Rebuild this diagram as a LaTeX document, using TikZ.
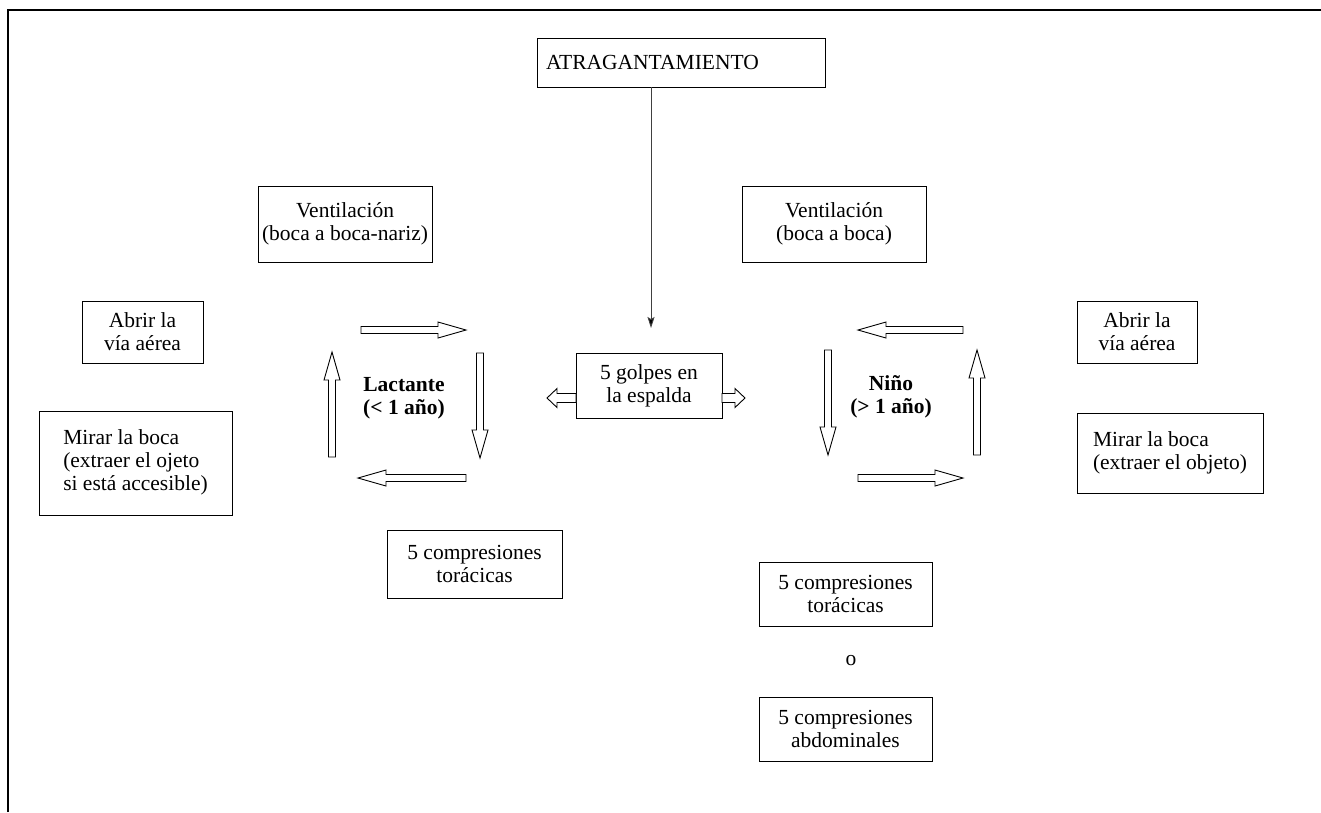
\documentclass[tikz,border=0pt]{standalone}
\usepackage{fontspec}
\setmainfont{Liberation Serif}
\usetikzlibrary{arrows.meta}
\newcommand\fs{\fontsize{21.5}{23}\selectfont}
\tikzset{
  box/.style={draw, line width=0.9pt, inner sep=0pt, align=center, font=\fs},
  lbl/.style={inner sep=0pt, align=center, font=\fs\bfseries},
  conn/.style={line width=0.9pt, draw=black!75, -{Stealth[length=11pt,width=7pt,inset=2pt,fill=black]}},
  hollow/.style={line width=0.9pt, draw=black, fill=white},
  pics/blk/.style n args={4}{code={
    \draw[hollow] (0,-#3) -- ({#1-#2},-#3) -- ({#1-#2},-#4) -- (#1,0) -- ({#1-#2},#4) -- ({#1-#2},#3) -- (0,#3) -- cycle;}}
}
\begin{document}
\begin{tikzpicture}[x=1pt,y=-1pt]
\useasboundingbox (0,0) rectangle (1321,812);
% frame
\draw[line width=2pt] (7.5,812) -- (7.5,9.5) -- (1321,9.5);

% boxes
\node[box, minimum width=288pt, minimum height=49pt, text width=270pt, inner xsep=9pt, align=left] (atrag) at (681,62.5) {ATRAGANTAMIENTO};
\node[box, minimum width=174pt, minimum height=76pt] (ventL) at (345,224) {Ventilación\\(boca a boca-nariz)};
\node[box, minimum width=184pt, minimum height=76pt] (ventR) at (834,224) {Ventilación\\(boca a boca)};
\node[box, minimum width=146pt, minimum height=65pt] (golpes) at (649,385.5) {5 golpes en\\la espalda};
\node[box, minimum width=121pt, minimum height=62pt] (abrirL) at (142.5,332) {Abrir la\\vía aérea};
\node[box, minimum width=193pt, minimum height=104pt] (mirarL) at (135.5,463) {\begin{tabular}{@{}l@{}}Mirar la boca\\(extraer el ojeto\\si está accesible)\end{tabular}};
\node[box, minimum width=120pt, minimum height=62pt] (abrirR) at (1137,332) {Abrir la\\vía aérea};
\node[box, minimum width=186pt, minimum height=80pt] (mirarR) at (1170,453) {\begin{tabular}{@{}l@{}}Mirar la boca\\(extraer el objeto)\end{tabular}};
\node[box, minimum width=175pt, minimum height=68pt] (compL) at (474.5,564) {5 compresiones\\torácicas};
\node[box, minimum width=173pt, minimum height=64pt] (compR) at (845.5,594) {5 compresiones\\torácicas};
\node[inner sep=0pt, font=\fs] (o) at (851,661) {o};
\node[box, minimum width=173pt, minimum height=64pt] (abdR) at (845.5,729) {5 compresiones\\abdominales};

% labels
\node[lbl] (lact) at (404,398) {Lactante\\(< 1 año)};
\node[lbl] (nino) at (891,397) {Niño\\(> 1 año)};

% connector
\coordinate (tip) at (651,328);
\draw[conn] (atrag.south -| tip) -- (tip);

% center hollow arrows
\pic[rotate=180] at (576,398) {blk={29}{10}{4.5}{9.5}};
\pic at (722,398) {blk={23}{10}{4.5}{9.5}};

% left cycle
\pic at (361,330) {blk={105}{28}{3.5}{8}};
\pic[rotate=-90] at (480,353) {blk={105}{28}{3.5}{8}};
\pic[rotate=180] at (466,478) {blk={108}{28}{3.5}{8}};
\pic[rotate=90] at (332,457) {blk={105}{28}{3.5}{8}};

% right cycle
\pic[rotate=180] at (963,330) {blk={105}{28}{3.5}{8}};
\pic[rotate=-90] at (828,350) {blk={105}{28}{3.5}{8}};
\pic at (858,478) {blk={105}{28}{3.5}{8}};
\pic[rotate=90] at (977,455) {blk={105}{28}{3.5}{8}};
\end{tikzpicture}
\end{document}
